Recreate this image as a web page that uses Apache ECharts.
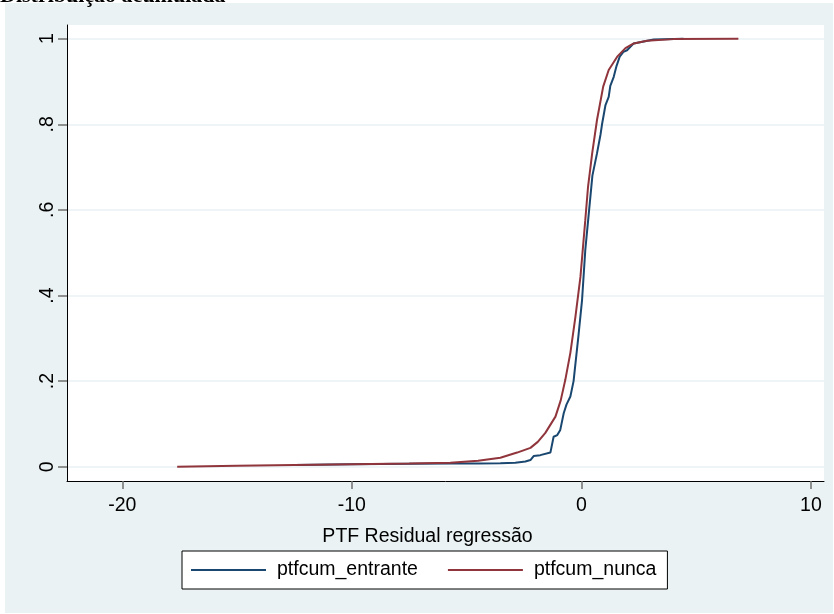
<!DOCTYPE html>
<html><head><meta charset="utf-8">
<script src="https://cdn.jsdelivr.net/npm/echarts@6/dist/echarts.min.js"></script>
<style>html,body{margin:0;padding:0;background:#fff}#c{width:834px;height:614px}</style>
</head><body><div id="c"></div>
<script>
const chartTitle = 'Distribuição acumulada';
const xAxisTitle = 'PTF Residual regressão';
const seriesNames = ['ptfcum_entrante', 'ptfcum_nunca'];
const xTicks = [-20, -10, 0, 10];
const xTickLabels = ['-20', '-10', '0', '10'];
const yTicks = [0, 0.2, 0.4, 0.6, 0.8, 1];
const yTickLabels = ['0', '.2', '.4', '.6', '.8', '1'];

// ptfcum_entrante (blue)
const entranteX = [-12.5, -9.98, -7.5, -5.71, -4.5, -3.53, -2.88, -2.44, -2.22, -2.08, -1.79, -1.35, -1.21, -1.05, -0.92, -0.77, -0.65, -0.48, -0.34, -0.22, -0.12, 0.03, 0.17, 0.35, 0.48, 0.68, 0.83, 0.9, 1.05, 1.19, 1.26, 1.41, 1.53, 1.67, 1.83, 1.99, 2.28, 3.15, 4.45];
const entranteY = [0.004, 0.0056, 0.0068, 0.0075, 0.0075, 0.0078, 0.009, 0.012, 0.0156, 0.025, 0.027, 0.033, 0.07, 0.074, 0.086, 0.125, 0.145, 0.164, 0.2, 0.26, 0.31, 0.39, 0.506, 0.607, 0.68, 0.732, 0.775, 0.8, 0.845, 0.864, 0.89, 0.911, 0.936, 0.958, 0.969, 0.973, 0.989, 0.998, 1.0];

// ptfcum_nunca (red)
const nuncaX = [-17.61, -15, -12.5, -9.98, -7.5, -5.71, -4.5, -3.53, -2.8, -2.22, -1.9, -1.57, -1.13, -0.9, -0.7, -0.48, -0.26, -0.04, 0.17, 0.29, 0.47, 0.68, 0.95, 1.19, 1.56, 1.92, 2.28, 2.86, 4.01, 6.84];
const nuncaY = [0, 0.002, 0.004, 0.0056, 0.0072, 0.0093, 0.014, 0.021, 0.033, 0.044, 0.058, 0.079, 0.117, 0.155, 0.203, 0.266, 0.35, 0.444, 0.576, 0.654, 0.732, 0.81, 0.888, 0.927, 0.958, 0.978, 0.989, 0.995, 0.999, 1.0];

const pair = (xs, ys) => xs.map((x, i) => [x, ys[i]]);

const chart = echarts.init(document.getElementById('c'));
const FONT = '"Liberation Sans", Arial, sans-serif';
chart.setOption({
  backgroundColor: '#ffffff',
  animation: false,
  graphic: [
    { type: 'rect', z: -10, silent: true, shape: { x: 5, y: 3, width: 828, height: 610 }, style: { fill: '#eaf2f3' } },
    { type: 'text', z: 10, silent: true, x: 0, y: 7, style: { text: chartTitle, font: 'bold 22px "Liberation Serif", "Times New Roman", serif', fill: '#000', verticalAlign: 'bottom' } }
  ],
  grid: { left: 67, top: 25, width: 757, height: 456, show: true, backgroundColor: '#ffffff', borderWidth: 0, containLabel: false },
  xAxis: {
    type: 'value', min: -22.41, max: 10.57,
    name: xAxisTitle, nameLocation: 'middle', nameGap: 46,
    nameTextStyle: { fontSize: 19.5, color: '#000', fontFamily: FONT, padding: [0, 36, 0, 0] },
    axisLine: { show: true, onZero: false, lineStyle: { color: '#000', width: 1 } },
    axisTick: { show: true, customValues: xTicks, length: 8, lineStyle: { color: '#707070', width: 1.5 } },
    axisLabel: { customValues: xTicks, formatter: v => xTickLabels[xTicks.indexOf(v)] ?? String(v), fontSize: 19.5, color: '#000', fontFamily: FONT, margin: 15 },
    splitLine: { show: false }
  },
  yAxis: {
    type: 'value', min: -0.0334, max: 1.032,
    axisLine: { show: true, onZero: false, lineStyle: { color: '#000', width: 1 } },
    axisTick: { show: true, customValues: yTicks, length: 9, lineStyle: { color: '#707070', width: 1.5 } },
    axisLabel: { customValues: yTicks, rotate: 90, formatter: v => { const i = yTicks.findIndex(t => Math.abs(t - v) < 1e-9); return i >= 0 ? yTickLabels[i] : ''; }, fontSize: 19.5, color: '#000', fontFamily: FONT, margin: 9 },
    splitLine: { show: true, lineStyle: { color: '#eaf2f3', width: 1.5 } }
  },
  legend: {
    left: 182, top: 551,
    data: seriesNames,
    selectedMode: false,
    orient: 'horizontal',
    backgroundColor: '#ffffff', borderColor: '#000', borderWidth: 1,
    padding: [9, 11, 9, 9],
    icon: 'path://M0,0L75,0L75,2L0,2Z',
    itemWidth: 75, itemHeight: 2, itemGap: 30,
    textStyle: { fontSize: 19.5, color: '#000', fontFamily: FONT, padding: [0, 0, 0, 6] }
  },
  series: [
    { name: seriesNames[0], type: 'line', symbol: 'none', smooth: false, z: 2, data: pair(entranteX, entranteY), lineStyle: { color: '#1a476f', width: 2 }, itemStyle: { color: '#1a476f' } },
    { name: seriesNames[1], type: 'line', symbol: 'none', smooth: false, z: 3, data: pair(nuncaX, nuncaY), lineStyle: { color: '#90353b', width: 2 }, itemStyle: { color: '#90353b' } }
  ]
});
</script>
</body></html>
